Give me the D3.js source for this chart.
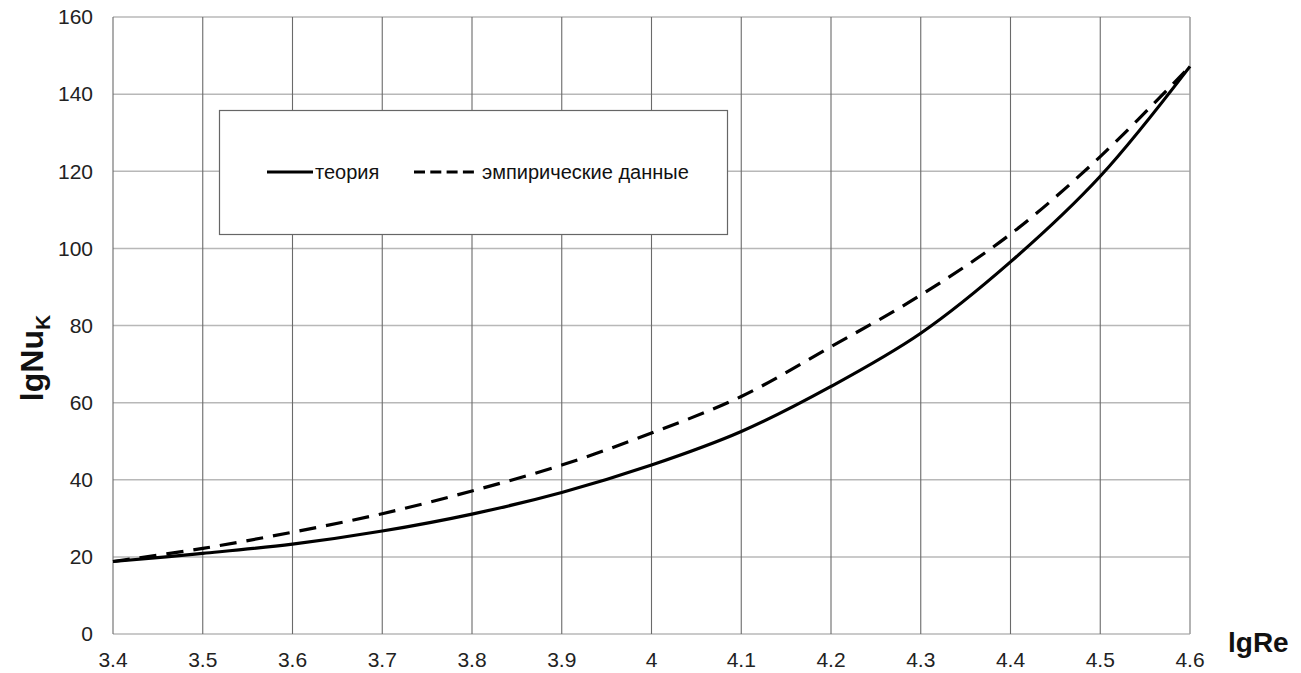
<!DOCTYPE html>
<html>
<head>
<meta charset="utf-8">
<script src="https://cdn.jsdelivr.net/npm/d3@7"></script>
<style>
  body { margin: 0; background: #fff; }
  text { font-family: "Liberation Sans", Arial, sans-serif; }
</style>
</head>
<body>
<div id="chart"></div>
<script>
// data
const lgRe = [3.4, 3.5, 3.6, 3.7, 3.8, 3.9, 4.0, 4.1, 4.2, 4.3, 4.4, 4.5, 4.6];
const theory = [18.8, 20.9, 23.3, 26.7, 31.1, 36.7, 43.8, 52.5, 64.2, 78.0, 96.5, 118.7, 147.2];
const empirical = [18.8, 22.2, 26.4, 31.2, 37.1, 43.8, 52.1, 61.6, 74.5, 87.9, 103.7, 123.8, 147.2];
const xTicks = [3.4, 3.5, 3.6, 3.7, 3.8, 3.9, 4.0, 4.1, 4.2, 4.3, 4.4, 4.5, 4.6];
const yTicks = [0, 20, 40, 60, 80, 100, 120, 140, 160];
const seriesNames = ["теория", "эмпирические данные"];

const W = 1301, H = 673;
const m = { left: 113, right: 111, top: 17, bottom: 39 };

const svg = d3.select("#chart").append("svg")
  .attr("width", W).attr("height", H);

const x = d3.scaleLinear().domain([3.4, 4.6]).range([m.left, W - m.right]);
const y = d3.scaleLinear().domain([0, 160]).range([H - m.bottom, m.top]);

// horizontal grid (lighter)
svg.append("g").selectAll("line")
  .data(yTicks)
  .join("line")
  .attr("x1", x(3.4)).attr("x2", x(4.6))
  .attr("y1", d => y(d)).attr("y2", d => y(d))
  .attr("stroke", "#b8b8b8")
  .attr("stroke-width", 1.5);

// vertical grid (darker)
svg.append("g").selectAll("line")
  .data(xTicks)
  .join("line")
  .attr("x1", d => x(d)).attr("x2", d => x(d))
  .attr("y1", y(0)).attr("y2", y(160))
  .attr("stroke", d => d === 4.6 ? "#a0a0a0" : "#6a6a6a")
  .attr("stroke-width", d => d === 4.6 ? 1.6 : 1.1);

// tick labels
svg.append("g").selectAll("text")
  .data(yTicks)
  .join("text")
  .attr("x", x(3.4) - 20)
  .attr("y", d => y(d))
  .attr("dy", "0.35em")
  .attr("text-anchor", "end")
  .attr("font-size", 21)
  .attr("fill", "#222")
  .text(d => d);

svg.append("g").selectAll("text")
  .data(xTicks)
  .join("text")
  .attr("x", d => x(d))
  .attr("y", y(0) + 33)
  .attr("text-anchor", "middle")
  .attr("font-size", 21)
  .attr("fill", "#222")
  .text(d => d === 4 ? "4" : d3.format(".1f")(d));

// legend box
const lg = svg.append("g");
lg.append("rect")
  .attr("x", 219.5).attr("y", 110.5)
  .attr("width", 508).attr("height", 124)
  .attr("fill", "#fff")
  .attr("stroke", "#666")
  .attr("stroke-width", 1.2);

// curves
const line = d3.line()
  .x((d, i) => x(lgRe[i]))
  .y(d => y(d))
  .curve(d3.curveCatmullRom.alpha(0.5));

svg.append("path")
  .datum(empirical)
  .attr("d", line)
  .attr("fill", "none")
  .attr("stroke", "#000")
  .attr("stroke-width", 3.2)
  .attr("stroke-dasharray", "17,10");

svg.append("path")
  .datum(theory)
  .attr("d", line)
  .attr("fill", "none")
  .attr("stroke", "#000")
  .attr("stroke-width", 3.2);

// legend entries
const ly = 172;
lg.append("line")
  .attr("x1", 267).attr("x2", 313).attr("y1", ly).attr("y2", ly)
  .attr("stroke", "#000").attr("stroke-width", 3.2);
lg.append("text")
  .attr("x", 315).attr("y", ly).attr("dy", "0.35em")
  .attr("font-size", 20).attr("fill", "#111")
  .text(seriesNames[0]);
lg.append("line")
  .attr("x1", 414).attr("x2", 474).attr("y1", ly).attr("y2", ly)
  .attr("stroke", "#000").attr("stroke-width", 3.2)
  .attr("stroke-dasharray", "11,5.3");
lg.append("text")
  .attr("x", 482).attr("y", ly).attr("dy", "0.35em")
  .attr("font-size", 20).attr("fill", "#111")
  .text(seriesNames[1]);

// axis titles
const yt = svg.append("text")
  .attr("transform", "translate(43, 358) rotate(-90)")
  .attr("text-anchor", "middle")
  .attr("font-size", 32)
  .attr("font-weight", "bold")
  .attr("fill", "#111");
yt.append("tspan").text("lgNu");
yt.append("tspan").attr("font-size", 21).attr("dy", 7).text("K");

svg.append("text")
  .attr("x", 1228).attr("y", 652)
  .attr("font-size", 28)
  .attr("font-weight", "bold")
  .attr("fill", "#111")
  .text("lgRe");
</script>
</body>
</html>
